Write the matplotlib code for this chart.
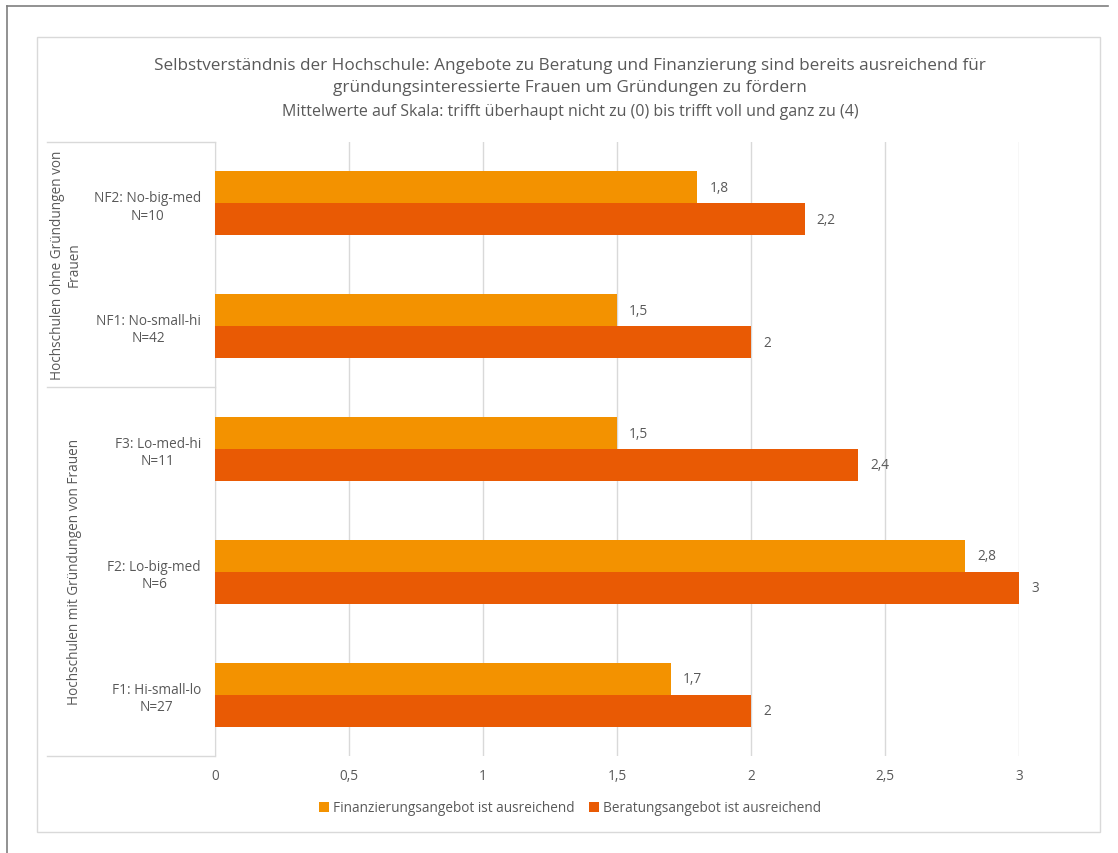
import matplotlib
matplotlib.use("Agg")
import matplotlib.pyplot as plt
from matplotlib.lines import Line2D
from matplotlib.patches import Rectangle
import numpy as np

plt.rcParams["font.family"] = ["Open Sans", "DejaVu Sans"]

TXT = "#595959"
GRID = "#D9D9D9"
ORANGE = "#F39200"
RED = "#E95A04"

kategorien = ["NF2: No-big-med\nN=10", "NF1: No-small-hi\nN=42", "F3: Lo-med-hi\nN=11",
              "F2: Lo-big-med\nN=6", "F1: Hi-small-lo\nN=27"]
finanzierung = [1.8, 1.5, 1.5, 2.8, 1.7]
beratung = [2.2, 2.0, 2.4, 3.0, 2.0]
gruppen = ["Hochschulen ohne Gründungen von\nFrauen", "Hochschulen mit Gründungen von Frauen"]
xticks = [0, 0.5, 1, 1.5, 2, 2.5, 3]

W, H = 1118, 854
fig = plt.figure(figsize=(W / 100, H / 100), dpi=100)

def fx(px):
    return px / W

def fy(py):
    return 1 - py / H

# Rahmen
fig.add_artist(Line2D([fx(7), fx(1108)], [fy(7), fy(7)], color="#7F7F7F", lw=1.2))
fig.add_artist(Line2D([fx(7), fx(7)], [fy(7), fy(854)], color="#7F7F7F", lw=1.2))
fig.add_artist(Rectangle((fx(37), fy(833)), fx(1100) - fx(37), fy(38) - fy(833),
                         fill=False, edgecolor="#D9D9D9", lw=1.0))

ax = fig.add_axes([fx(215), fy(757), fx(1019) - fx(215), fy(143) - fy(757)])
y = np.arange(len(kategorien))
h = 0.26
ax.barh(y - h / 2, finanzierung, h, color=ORANGE, zorder=3, label="Finanzierungsangebot ist ausreichend")
ax.barh(y + h / 2, beratung, h, color=RED, zorder=3, label="Beratungsangebot ist ausreichend")
for i in range(len(kategorien)):
    for v, yy in ((finanzierung[i], y[i] - h / 2), (beratung[i], y[i] + h / 2)):
        ax.text(v + 0.045, yy, f"{v:g}".replace(".", ","), va="center", ha="left",
                fontsize=9.8, color=TXT)

ax.set_ylim(len(kategorien) - 0.5, -0.5)
ax.set_xlim(0, 3)
ax.set_xticks(xticks)
ax.set_xticklabels([f"{t:g}".replace(".", ",") for t in xticks], fontsize=9.8, color=TXT)
ax.set_yticks(y)
ax.set_yticklabels(kategorien, fontsize=9.8, color=TXT, multialignment="center")
ax.tick_params(length=0)
ax.tick_params(axis="x", pad=9)
ax.tick_params(axis="y", pad=10)
ax.grid(axis="x", color=GRID, lw=1.0, zorder=0)
for s in ["top", "right", "bottom"]:
    ax.spines[s].set_visible(False)
ax.spines["left"].set_color(GRID)

# Gruppenachse
for py in (143, 388, 757):
    fig.add_artist(Line2D([fx(47), fx(215)], [fy(py), fy(py)], color=GRID, lw=1.0))
fig.text(fx(66), fy(265), gruppen[0], rotation=90, ha="center", va="center",
         fontsize=9.8, color=TXT, multialignment="center")
fig.text(fx(75), fy(572), gruppen[1], rotation=90, ha="center", va="center",
         fontsize=9.8, color=TXT)

fig.text(0.51, fy(77), "Selbstverständnis der Hochschule: Angebote zu Beratung und Finanzierung sind bereits ausreichend für\n"
         "gründungsinteressierte Frauen um Gründungen zu fördern",
         ha="center", va="center", fontsize=12.3, color=TXT, linespacing=1.45)
fig.text(0.51, fy(112), "Mittelwerte auf Skala: trifft überhaupt nicht zu (0) bis trifft voll und ganz zu (4)",
         ha="center", va="center", fontsize=11.5, color=TXT)

fig.legend(loc="center", bbox_to_anchor=(fx(570), fy(809)), ncol=2, frameon=False,
           fontsize=9.8, labelcolor=TXT, handlelength=0.7, handleheight=0.7,
           handletextpad=0.3, columnspacing=1.1)

fig.savefig("out.png", dpi=100, facecolor="white")
